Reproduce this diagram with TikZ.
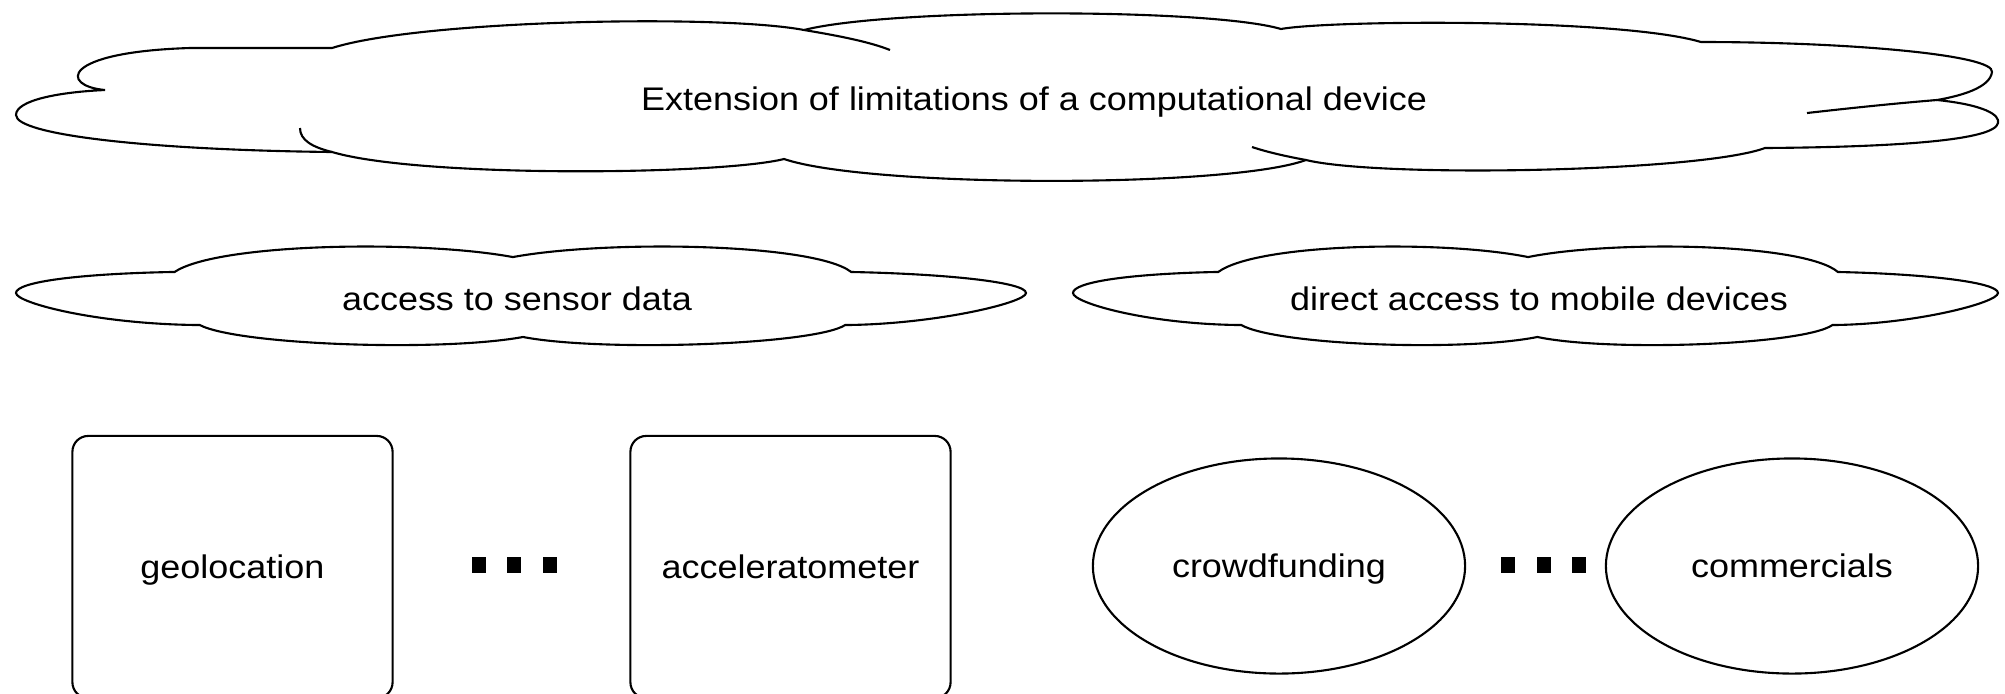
\documentclass[tikz,border=0pt]{standalone}
\usepackage{fontspec}
\setmainfont{Liberation Sans}[FakeStretch=1.1]
\usetikzlibrary{shapes}

% flat cloud with two puffs on top and bottom: #1,#2 top left, #3 width, #4 height
\newcommand{\flatcloud}[4]{%
	\draw[cloudline, shift={(#1,#2)}, xscale=#3, yscale=#4]
	(0.157,0.262) .. controls (0.20,-0.02) and (0.40,-0.05) .. (0.492,0.117)
	.. controls (0.584,-0.05) and (0.79,-0.02) .. (0.827,0.262)
	.. controls (0.92,0.28) and (1,0.36) .. (1,0.466)
	.. controls (1,0.56) and (0.91,0.77) .. (0.821,0.777)
	.. controls (0.79,0.97) and (0.58,1.04) .. (0.502,0.893)
	.. controls (0.42,1.04) and (0.22,0.97) .. (0.182,0.777)
	.. controls (0.08,0.77) and (0,0.56) .. (0,0.466)
	.. controls (0,0.36) and (0.06,0.28) .. cycle;}

\begin{document}
\begin{tikzpicture}[x=0.01cm, y=-0.01cm,
	cloudline/.style={line width=0.6pt},
	txt/.style={font=\fontsize{9.3}{11}\selectfont, text height=6.7pt, text depth=0pt, inner sep=0pt},
	sensorbox/.style={txt, draw, line width=0.6pt, rounded corners=4.5pt, minimum width=3.2cm, minimum height=2.62cm},
	usebox/.style={txt, draw, ellipse, line width=0.6pt, minimum width=3.72cm, minimum height=2.15cm},
	sqdot/.style={fill=black, inner sep=0pt, minimum width=0.14cm, minimum height=0.16cm}]
	\useasboundingbox (0,0) rectangle (2005,693);

	% big cloud
	\draw[cloudline] (332,48) .. controls (420,20) and (720,14) .. (804,30)
		.. controls (890,8) and (1210,8) .. (1281,29)
		.. controls (1330,20) and (1620,18) .. (1701,42)
		.. controls (1850,42) and (1995,55) .. (1992,72)
		.. controls (1990,88) and (1960,96) .. (1937,100)
		.. controls (1985,105) and (2000,115) .. (1998,123)
		.. controls (1995,140) and (1900,147) .. (1765,148)
		.. controls (1700,172) and (1380,178) .. (1306,160)
		.. controls (1230,188) and (870,188) .. (784,159)
		.. controls (720,175) and (420,178) .. (332,152)
		.. controls (150,150) and (16,135) .. (16,115)
		.. controls (16,100) and (60,92) .. (105,90)
		.. controls (60,86) and (60,52) .. (190,48)
		-- cycle;
	\draw[cloudline] (804,30) .. controls (840,36) and (870,42) .. (890,50);
	\draw[cloudline] (300,128) .. controls (300,140) and (312,147) .. (332,152);
	\draw[cloudline] (1252,147) .. controls (1270,153) and (1290,157) .. (1306,160);
	\draw[cloudline] (1807,113) .. controls (1860,107) and (1900,103) .. (1937,100);
	\node[txt] (limits) at (1034,99) {Extension of limitations of a computational device};

	% second row
	\flatcloud{16}{245}{1010}{103}
	\flatcloud{1073}{245}{925}{103}
	\node[txt] (sensor) at (517,299) {access to sensor data};
	\node[txt] (mobile) at (1539,299) {direct access to mobile devices};

	% third row
	\node[sensorbox] (geo) at (232.5,567) {geolocation};
	\node[sqdot] (geodots1) at (479,565) {};
	\node[sqdot] (geodots2) at (514,565) {};
	\node[sqdot] (geodots3) at (549.5,565) {};
	\node[sensorbox] (accel) at (790.5,567) {acceleratometer};

	\node[usebox] (crowd) at (1279,566) {crowdfunding};
	\node[sqdot] (crowddots1) at (1508,565) {};
	\node[sqdot] (crowddots2) at (1543.5,565) {};
	\node[sqdot] (crowddots3) at (1579,565) {};
	\node[usebox] (comm) at (1792,566) {commercials};
\end{tikzpicture}
\end{document}
